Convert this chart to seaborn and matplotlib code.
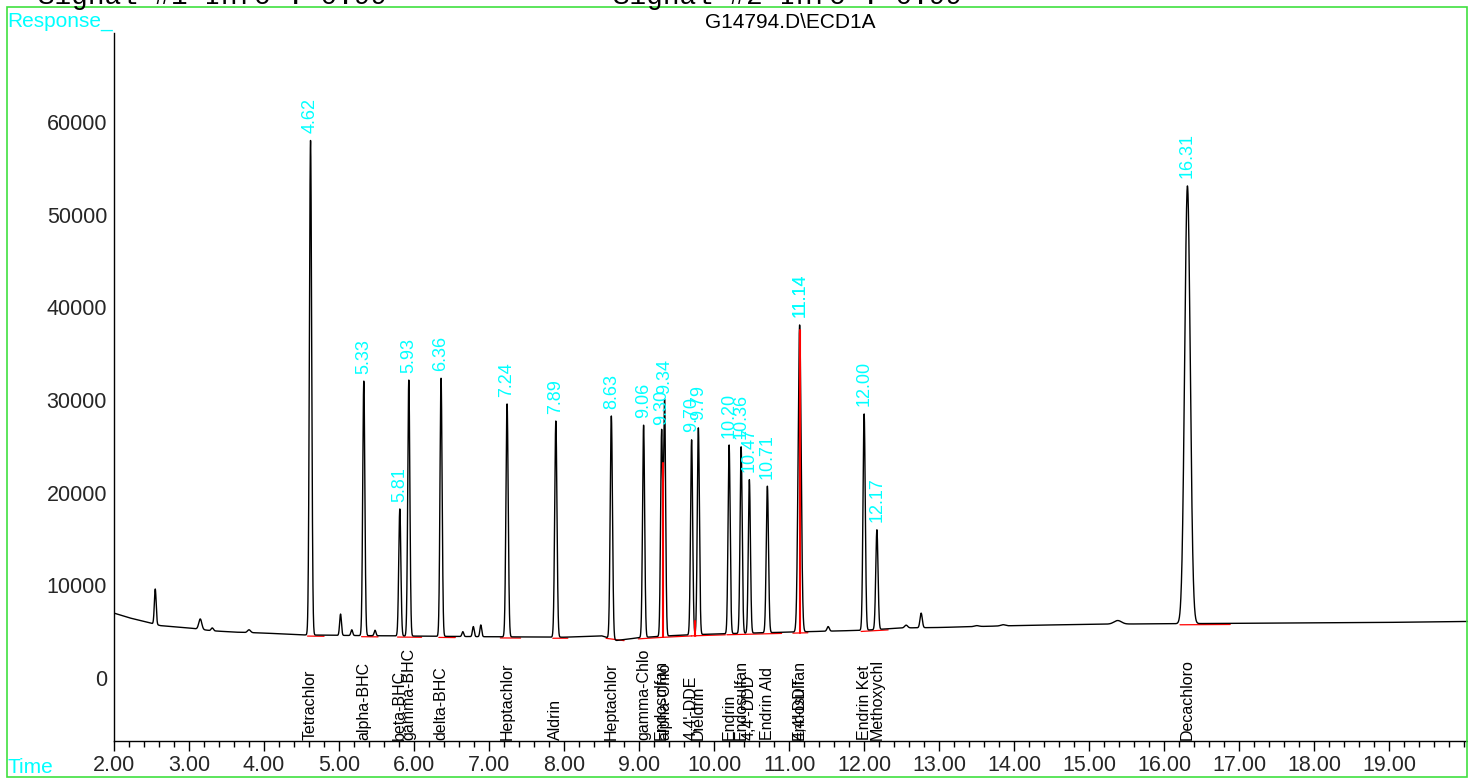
import numpy as np
import pandas as pd
import matplotlib
matplotlib.use("Agg")
import matplotlib.pyplot as plt
import matplotlib.transforms as mtransforms
from matplotlib.patches import Rectangle
from matplotlib.ticker import MultipleLocator, FixedLocator
import seaborn as sns

# ---- integrated (named) peaks: retention time [min] and apex response ----
peak_rt = [4.62, 5.33, 5.81, 5.93, 6.36, 7.24, 7.89, 8.63, 9.06, 9.30, 9.34,
           9.70, 9.79, 10.20, 10.36, 10.47, 10.71, 11.14, 12.00, 12.17, 16.31]
peak_apex = [58000, 32050, 18240, 32150, 32370, 29570, 27730, 28270, 27300,
             26500, 29800, 25700, 27000, 25150, 24950, 21400, 20700, 38100,
             28500, 16000, 53100]
peak_sigma = [0.015, 0.014, 0.014, 0.014, 0.014, 0.015, 0.015, 0.015, 0.014,
              0.0135, 0.0135, 0.014, 0.014, 0.014, 0.014, 0.014, 0.015, 0.02,
              0.015, 0.015, 0.037]

# ---- compound names printed under the trace ----
compound_names = ["Tetrachlor", "alpha-BHC", "beta-BHC", "gamma-BHC", "delta-BHC",
                  "Heptachlor", "Aldrin", "Heptachlor", "gamma-Chlo", "Endosulfan",
                  "alpha-Chlo", "4,4'-DDE", "Dieldrin", "Endrin", "Endosulfan",
                  "4,4'-DDD", "Endrin Ald", "Endosulfan", "4,4'-DDT", "Endrin Ket",
                  "Methoxychl", "Decachloro"]
compound_rt = [4.62, 5.33, 5.81, 5.93, 6.36, 7.24, 7.89, 8.63, 9.06, 9.30, 9.34,
               9.70, 9.79, 10.20, 10.36, 10.47, 10.71, 11.14, 11.14, 12.00, 12.17,
               16.31]

# ---- minor, unlabelled peaks ----
minor_rt = [2.55, 3.15, 3.31, 3.80, 5.02, 5.17, 5.48, 6.65, 6.79, 6.89,
            11.52, 12.56, 12.76, 13.50, 13.85, 15.38]
minor_apex = [9600, 6370, 5400, 5200, 6900, 5200, 5150, 5000, 5550, 5720,
              5550, 5700, 7000, 5650, 5750, 6200]
minor_sigma = [0.012, 0.02, 0.015, 0.02, 0.012, 0.012, 0.012, 0.012, 0.012, 0.012,
               0.015, 0.02, 0.015, 0.03, 0.03, 0.05]

# ---- detector baseline (time, response) ----
base_t = [2.0, 2.2, 2.45, 2.62, 3.0, 3.3, 3.6, 4.0, 4.5, 5.0, 6.0, 7.0, 8.0,
          8.5, 8.7, 8.85, 9.0, 9.5, 10.0, 10.5, 11.0, 11.5, 12.0, 12.5, 13.0,
          14.0, 15.0, 16.0, 17.0, 18.0, 19.0, 20.05]
base_v = [7000, 6500, 6000, 5650, 5400, 5100, 4950, 4850, 4650, 4600, 4520,
          4450, 4400, 4550, 4050, 4200, 4350, 4600, 4750, 4850, 4950, 5050,
          5150, 5400, 5450, 5650, 5800, 5850, 5900, 5950, 6000, 6100]

# ---- integration baselines (red) and drop lines ----
seg_start = [4.58, 5.30, 5.78, 6.33, 7.15, 7.85, 8.56, 8.99, 9.32, 9.70, 9.76,
             10.17, 10.67, 11.05, 11.96, 16.21]
seg_end = [4.80, 5.52, 6.10, 6.55, 7.42, 8.05, 8.80, 9.32, 9.70, 9.76, 10.15,
           10.66, 10.90, 11.25, 12.32, 16.88]
drop_t = [9.32, 9.745, 11.14]
drop_top = [23200, 6200, 37600]

x_ticks = [2, 3, 4, 5, 6, 7, 8, 9, 10, 11, 12, 13, 14, 15, 16, 17, 18, 19]
y_ticks = [0, 10000, 20000, 30000, 40000, 50000, 60000]

CYAN = "#00FFFF"
GREEN = "#3FE03F"

# ---- build the detector signal ----
t = np.linspace(2.0, 20.05, 14000)
signal = np.interp(t, base_t, base_v).astype(float)
for rt, apex, s in zip(peak_rt + minor_rt, peak_apex + minor_apex,
                       peak_sigma + minor_sigma):
    amp = apex - np.interp(rt, base_t, base_v)
    signal += amp * np.exp(-0.5 * ((t - rt) / s) ** 2)
trace = pd.DataFrame({"time": t, "response": signal})

sns.set_theme(style="white")
plt.rcParams["font.family"] = ["Liberation Sans", "DejaVu Sans"]

W, H = 1468, 779
fig = plt.figure(figsize=(W / 100, H / 100), dpi=100)
ax = fig.add_axes([114 / W, 1 - 741 / H, 1 - 114 / W, (741 - 33) / H])

sns.lineplot(data=trace, x="time", y="response", ax=ax, color="black",
             linewidth=1.0, estimator=None, sort=False, zorder=3)

# integration baselines
for a, b in zip(seg_start, seg_end):
    ya = np.interp(a, base_t, base_v) - 120
    yb = np.interp(b, base_t, base_v) - 120
    ax.plot([a, b], [ya, yb], color="red", linewidth=0.9, zorder=2)
for dt, top in zip(drop_t, drop_top):
    ax.plot([dt, dt], [np.interp(dt, base_t, base_v) - 120, top],
            color="red", linewidth=1.5, zorder=4)

# retention-time labels above each apex
apex_of = dict(zip(peak_rt, peak_apex))
for rt in compound_rt:
    ax.text(rt, apex_of[rt] + 800, f"{rt:.2f}", rotation=90, ha="center",
            va="bottom", color=CYAN, fontsize=13, zorder=5)

# compound names along the bottom
trans = mtransforms.blended_transform_factory(ax.transData, ax.transAxes)
for name, rt in zip(compound_names, compound_rt):
    ax.text(rt, 0.002, name, rotation=90, ha="center", va="bottom",
            fontsize=11.5, color="black", transform=trans, zorder=5)

ax.set_xlim(2.0, 20.05)
ax.set_ylim(-6800, 69600)
ax.xaxis.set_major_locator(FixedLocator(x_ticks))
ax.xaxis.set_minor_locator(MultipleLocator(0.2))
ax.set_xticklabels([f"{v:.2f}" for v in x_ticks])
ax.yaxis.set_major_locator(FixedLocator(y_ticks))
ax.set_yticklabels([str(v) for v in y_ticks])
ax.tick_params(axis="x", which="major", direction="out", length=7, width=1,
               color="black", labelsize=15.5, pad=3, bottom=True)
ax.tick_params(axis="x", which="minor", direction="out", length=4, width=1,
               color="black", bottom=True)
ax.tick_params(axis="y", which="major", length=0, labelsize=15.5, pad=5, left=True)
ax.set_xlabel("")
ax.set_ylabel("")
for side in ("top", "right"):
    ax.spines[side].set_visible(False)
for side in ("left", "bottom"):
    ax.spines[side].set_color("black")
    ax.spines[side].set_linewidth(1.0)
ax.set_facecolor("white")

# page decorations
fig.add_artist(Rectangle((7 / W, 1 - 777 / H), (1467 - 7) / W, (777 - 7) / H,
                         transform=fig.transFigure, fill=False,
                         edgecolor=GREEN, linewidth=1.2))
fig.text(7 / W, 1 - 27 / H, "Response_", color=CYAN, fontsize=15,
         ha="left", va="baseline")
fig.text(7 / W, 1 - 773 / H, "Time", color=CYAN, fontsize=15,
         ha="left", va="baseline")
fig.text(790 / W, 1 - 28 / H, "G14794.D\\ECD1A", color="black", fontsize=15,
         ha="center", va="baseline")
fig.text(38 / W, 1 - 4 / H, "Signal #1 Info : 0.99", family="Liberation Mono",
         fontsize=20, ha="left", va="baseline", color="black")
fig.text(613 / W, 1 - 4 / H, "Signal #2 Info : 0.99", family="Liberation Mono",
         fontsize=20, ha="left", va="baseline", color="black")

fig.savefig("out.png", dpi=100, facecolor="white")
